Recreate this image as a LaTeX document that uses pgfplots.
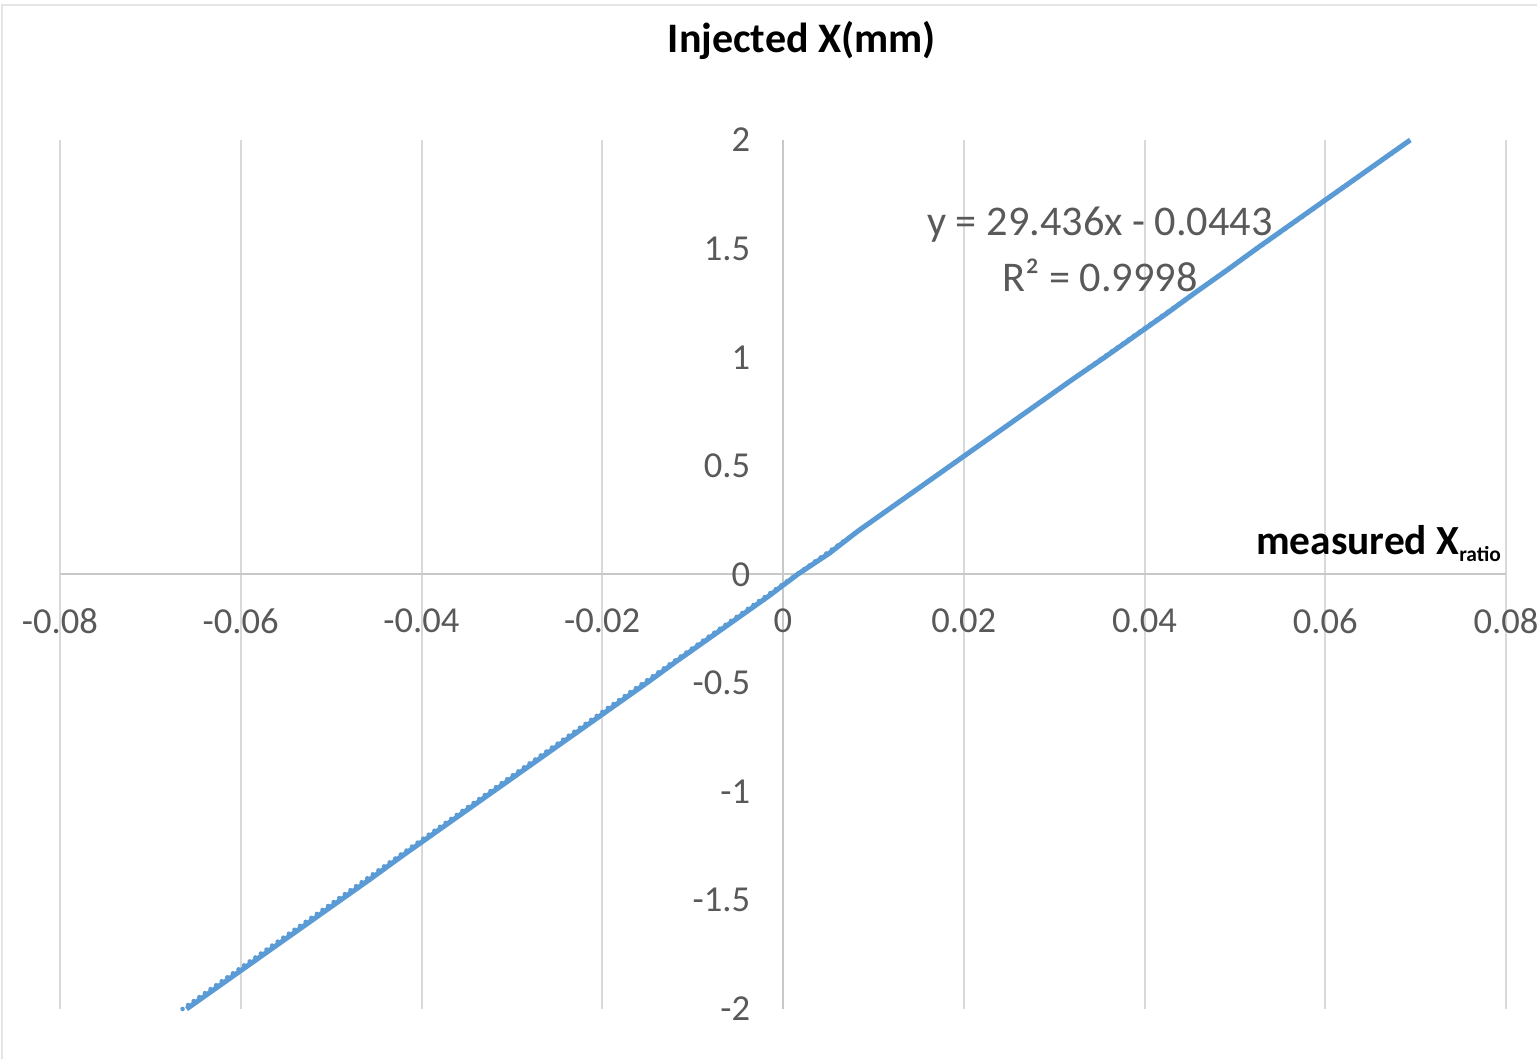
\documentclass[border=0pt]{standalone}
\usepackage{pgfplots}
\pgfplotsset{compat=1.18}
\usepackage{fontspec}
\setmainfont{Carlito}
\definecolor{serblue}{HTML}{5B9BD5}
\definecolor{gridgray}{HTML}{D9D9D9}
\definecolor{axgray}{HTML}{C8C8C8}
\definecolor{labgray}{HTML}{595959}

% measured ratio (x) against injected position in mm (y)
\pgfplotstableread{
x        y
-0.0660  -2.0
-0.0626  -1.9
-0.0592  -1.8
-0.0558  -1.7
-0.0524  -1.6
-0.0490  -1.5
-0.0456  -1.4
-0.0423  -1.3
-0.0389  -1.2
-0.0355  -1.1
-0.0321  -1.0
-0.0287  -0.9
-0.0253  -0.8
-0.0219  -0.7
-0.0185  -0.6
-0.0151  -0.5
-0.0118  -0.4
-0.0084  -0.3
-0.0050  -0.2
-0.0016  -0.1
 0.0016   0.0
 0.0052   0.1
 0.0083   0.2
 0.0117   0.3
 0.0151   0.4
 0.0185   0.5
 0.0219   0.6
 0.0253   0.7
 0.0287   0.8
 0.0321   0.9
 0.0356   1.0
 0.0390   1.1
 0.0424   1.2
 0.0457   1.3
 0.0491   1.4
 0.0524   1.5
 0.0558   1.6
 0.0592   1.7
 0.0626   1.8
 0.0660   1.9
 0.0694   2.0
}\measured

% linear trendline y = 29.436x - 0.0443, end points at y = -2 and y = 2
\pgfplotstableread{
x        y
-0.06644 -2.0
 0.06945  2.0
}\trend

\begin{document}
\begin{tikzpicture}
\begin{axis}[
  scale only axis,
  width=506.1pt, height=304.15pt,
  xmin=-0.08, xmax=0.08, ymin=-2, ymax=2,
  enlargelimits=false,
  axis lines=middle,
  axis line style={-, axgray, line width=0.7pt},
  scaled x ticks=false, scaled y ticks=false,
  xtick={-0.08,-0.06,-0.04,-0.02,0,0.02,0.04,0.06,0.08},
  xticklabels={-0.08,-0.06,-0.04,-0.02,0,0.02,0.04,0.06,0.08},
  ytick={-2,-1.5,-1,-0.5,0,0.5,1,1.5,2},
  yticklabels={-2,-1.5,-1,-0.5,0,0.5,1,1.5,2},
  hide obscured x ticks=false,
  hide obscured y ticks=false,
  major tick length=0pt,
  xmajorgrids,
  grid style={gridgray, line width=0.7pt},
  tick label style={font=\fontsize{12.8}{15}\selectfont, text=labgray},
  xticklabel style={anchor=north, yshift=-8.5pt},
  yticklabel style={anchor=east, xshift=-8pt},
  clip=false,
]
\addplot[serblue, line width=1.75pt, line join=round] table[x=x, y=y] {\measured};
\addplot[serblue, line width=1.6pt, line cap=round, dash pattern=on 0pt off 2.4pt] table[x=x, y=y] {\trend};

\node[font=\fontsize{14.8}{18}\selectfont, text=labgray] at (axis cs:0.03507,1.611) {y = 29.436x - 0.0443};
\node[font=\fontsize{14.8}{18}\selectfont, text=labgray] at (axis cs:0.03507,1.376) {R² = 0.9998};
\node[font=\bfseries\fontsize{14.5}{17}\selectfont, anchor=east, inner sep=0pt] at (axis cs:0.0795,0.143) {measured X\raisebox{-0.35ex}{\fontsize{7.5}{8}\selectfont ratio}};
\node[font=\bfseries\fontsize{14.7}{17}\selectfont] at ([yshift=35pt]rel axis cs:0.513,1) {Injected X(mm)};

\coordinate (LL) at (rel axis cs:0,0);
\coordinate (UR) at (rel axis cs:1,1);
\end{axis}
\pgfresetboundingbox
\path[use as bounding box] ([shift={(-21pt,-17.5pt)}]LL) rectangle ([shift={(10.85pt,49pt)}]UR);
\draw[gray!20, line width=1pt] ([shift={(-20.3pt,-30pt)}]LL) |- ([shift={(30pt,47.25pt)}]UR);
\end{tikzpicture}
\end{document}
